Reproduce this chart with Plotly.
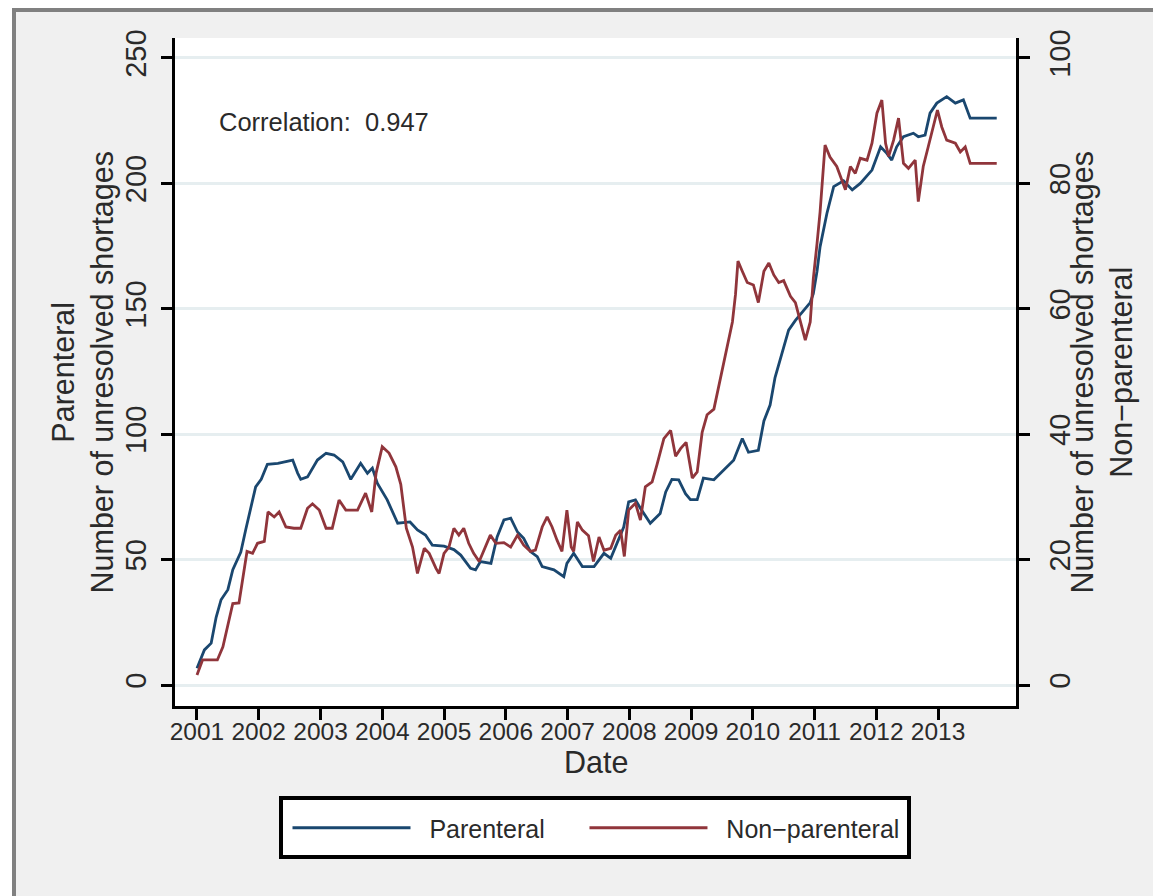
import plotly.graph_objects as go

# ---------------- data ----------------
years = list(range(2001, 2014))
year_labels = [str(y) for y in years]

# Parenteral shortages (left axis), x in decimal years
par_t = [2001.00, 2001.12, 2001.23, 2001.31, 2001.39, 2001.50, 2001.58, 2001.71, 2001.79, 2001.87,
         2001.95, 2002.04, 2002.14, 2002.31, 2002.55, 2002.63, 2002.68, 2002.79, 2002.95, 2003.09,
         2003.22, 2003.36, 2003.49, 2003.65, 2003.76, 2003.84, 2003.92, 2004.08, 2004.25, 2004.45,
         2004.57, 2004.70, 2004.81, 2005.00, 2005.16, 2005.27, 2005.43, 2005.51, 2005.59, 2005.76,
         2005.86, 2005.97, 2006.08, 2006.19, 2006.29, 2006.40, 2006.51, 2006.59, 2006.78, 2006.94,
         2006.99, 2007.10, 2007.24, 2007.43, 2007.59, 2007.70, 2007.80, 2007.91, 2007.99, 2008.10,
         2008.18, 2008.34, 2008.50, 2008.59, 2008.69, 2008.80, 2008.91, 2008.99, 2009.10, 2009.20,
         2009.37, 2009.53, 2009.69, 2009.83, 2009.93, 2010.09, 2010.18, 2010.28, 2010.36, 2010.47,
         2010.58, 2010.69, 2010.82, 2010.93, 2010.98, 2011.04, 2011.09, 2011.20, 2011.31, 2011.47,
         2011.61, 2011.74, 2011.93, 2012.07, 2012.17, 2012.25, 2012.33, 2012.44, 2012.60, 2012.68,
         2012.79, 2012.87, 2012.98, 2013.14, 2013.28, 2013.41, 2013.52, 2013.95]
par_v = [6.7, 14, 16.7, 27, 34, 38, 46, 53, 62, 71,
         79, 82, 88, 88.4, 89.7, 84.5, 82, 83, 89.7, 92.4,
         91.7, 89, 82, 88.4, 84.4, 86.5, 80.5, 73.8, 64.5, 65,
         61.8, 59.8, 55.8, 55.4, 54, 51.8, 46.5, 45.9, 49.2, 48.5,
         59, 65.8, 66.5, 61, 58.5, 53.2, 51.2, 47.2, 45.9, 43.2,
         48.5, 52.5, 47.2, 47.2, 52.5, 50.5, 56.5, 63, 73, 73.8,
         70.5, 64.5, 68.4, 77, 82, 81.8, 76.3, 73.9, 73.9, 82.5,
         81.8, 85.7, 89.6, 98.3, 92.8, 93.6, 105.3, 111.6, 122.6, 132,
         141.5, 145.4, 149.4, 152.5, 156, 165, 174.8, 188, 198.7, 201,
         197.4, 200, 205.3, 214.6, 212, 209.3, 214.6, 218.6, 220, 218.6,
         219.3, 228, 232, 234.6, 232, 233.3, 226, 226]

# Non-parenteral shortages (right axis)
nonpar_t = [2001.00, 2001.09, 2001.23, 2001.33, 2001.42, 2001.50, 2001.58, 2001.68, 2001.74, 2001.81,
            2001.90, 2001.98, 2002.09, 2002.15, 2002.25, 2002.33, 2002.44, 2002.57, 2002.68, 2002.79,
            2002.87, 2002.98, 2003.09, 2003.19, 2003.30, 2003.41, 2003.60, 2003.73, 2003.83, 2003.90,
            2004.00, 2004.11, 2004.22, 2004.30, 2004.39, 2004.49, 2004.57, 2004.68, 2004.76, 2004.87,
            2004.92, 2005.00, 2005.08, 2005.16, 2005.24, 2005.32, 2005.40, 2005.48, 2005.57, 2005.65,
            2005.75, 2005.84, 2005.97, 2006.08, 2006.19, 2006.29, 2006.40, 2006.48, 2006.59, 2006.67,
            2006.75, 2006.83, 2006.91, 2006.99, 2007.06, 2007.10, 2007.16, 2007.24, 2007.34, 2007.42,
            2007.51, 2007.59, 2007.70, 2007.78, 2007.86, 2007.92, 2007.99, 2008.10, 2008.18, 2008.26,
            2008.37, 2008.45, 2008.56, 2008.67, 2008.75, 2008.83, 2008.92, 2009.02, 2009.10, 2009.18,
            2009.26, 2009.37, 2009.45, 2009.53, 2009.61, 2009.67, 2009.72, 2009.76, 2009.83, 2009.91,
            2010.01, 2010.09, 2010.18, 2010.26, 2010.34, 2010.42, 2010.50, 2010.61, 2010.69, 2010.77,
            2010.85, 2010.93, 2010.98, 2011.04, 2011.09, 2011.17, 2011.25, 2011.36, 2011.44, 2011.50,
            2011.58, 2011.66, 2011.74, 2011.85, 2011.93, 2012.01, 2012.09, 2012.15, 2012.20, 2012.28,
            2012.36, 2012.44, 2012.52, 2012.63, 2012.68, 2012.76, 2012.84, 2012.92, 2012.99, 2013.06,
            2013.14, 2013.28, 2013.36, 2013.44, 2013.52, 2013.95]
nonpar_v = [1.6, 4, 4, 4, 6.1, 9.3, 13, 13.1, 16.7, 21.3,
            21, 22.6, 22.9, 27.6, 26.8, 27.6, 25.2, 25, 25, 28.2,
            28.9, 27.9, 25, 25, 29.5, 27.9, 27.9, 30.6, 27.6, 33.8,
            38, 37, 34.8, 32, 25, 22, 17.8, 21.8, 21, 18.6,
            17.8, 21, 22, 25, 23.9, 25, 22.6, 21, 19.7, 21.5,
            23.9, 22.6, 22.7, 22, 23.9, 22.3, 21.3, 21.5, 25.2, 26.8,
            25.2, 23.1, 21.3, 27.9, 22, 21.3, 26, 24.7, 23.8, 19.7,
            23.6, 21.5, 21.8, 23.9, 24.7, 20.5, 27.9, 29, 26.3, 31.6,
            32.4, 35.2, 39.3, 40.6, 36.5, 37.7, 38.7, 33, 34, 40.3,
            43.1, 44, 47.8, 51.6, 55.3, 57.9, 62.3, 67.6, 66, 64.2,
            63.8, 61, 66, 67.3, 65.4, 64.2, 64.5, 62, 61, 57.9,
            55, 57.9, 64.8, 70.4, 75.5, 86.1, 84.2, 82.7, 80.5, 79,
            82.7, 81.6, 84, 83.7, 86.4, 91.2, 93.3, 86.4, 84.3, 86.9,
            90.4, 83.2, 82.4, 83.7, 77.1, 82.7, 85.8, 89, 91.7, 89,
            86.9, 86.4, 85, 85.8, 83.2, 83.2]

left_ticks = [0, 50, 100, 150, 200, 250]
right_ticks = [0, 20, 40, 60, 80, 100]
correlation_text = "Correlation:  0.947"
series_names = ["Parenteral", "Non\u2212parenteral"]

# ---------------- styling ----------------
# the page body adds an 8px offset, so the figure is sized/positioned for that
W, H = 1153, 888
L, R, T, B = 167, 145, 30, 190
PW, PH = W - L - R, H - T - B
FONT = "Liberation Sans, Arial, sans-serif"
TXT = "#2a2a2a"
BLUE = "#1a476f"
RED = "#90353b"
GRID = "#e6eef0"
NB = "\u00a0"


def px(xp):
    return (xp - L) / PW


def py(yp):
    return (H - B - yp) / PH


fig = go.Figure()
fig.add_trace(go.Scatter(x=par_t, y=par_v, mode="lines", name=NB * 2 + series_names[0] + NB * 5,
                         line=dict(color=BLUE, width=2.8), yaxis="y"))
fig.add_trace(go.Scatter(x=nonpar_t, y=nonpar_v, mode="lines", name=NB * 2 + series_names[1],
                         line=dict(color=RED, width=2.8), yaxis="y2"))

axis_common = dict(showline=True, linecolor="black", linewidth=3, ticks="outside",
                   ticklen=11, tickwidth=3, tickcolor="black", zeroline=False)

fig.update_layout(
    width=W, height=H,
    margin=dict(l=L, r=R, t=T, b=B, pad=0),
    paper_bgcolor="#f0f0f0", plot_bgcolor="white",
    font=dict(family=FONT, color=TXT),
    showlegend=True,
    xaxis=dict(range=[2000.644, 2014.262], tickvals=years, ticktext=year_labels,
               tickfont=dict(size=24.5, color=TXT), showgrid=False, ticklabelstandoff=-9,
               **axis_common),
    yaxis=dict(range=[-8.37, 257.97], tickvals=left_ticks, tickangle=-90,
               tickfont=dict(size=29, color=TXT), showgrid=True, gridcolor=GRID, gridwidth=3,
               ticklabelstandoff=3, **axis_common),
    yaxis2=dict(range=[-8.37 / 2.5, 257.97 / 2.5], tickvals=right_ticks, tickangle=-90,
                overlaying="y", side="right", tickfont=dict(size=29, color=TXT), showgrid=False,
                ticklabelstandoff=5, **axis_common),
    legend=dict(orientation="h", xref="container", yref="container",
                x=276 / W, y=1 - 793.5 / H, xanchor="left", yanchor="top",
                bgcolor="rgba(0,0,0,0)", bordercolor="rgba(0,0,0,0)", borderwidth=3.5,
                font=dict(size=25, color=TXT), itemwidth=118,
                traceorder="normal"),
    hovermode=False,
)

annos = [
    dict(text=correlation_text, x=px(209), y=py(113.7), xanchor="left", yanchor="middle",
         font=dict(size=25.5, color=TXT)),
    dict(text="Parenteral<br>Number of unresolved shortages", x=px(74.5), y=py(364),
         textangle=-90, xanchor="center", yanchor="middle", font=dict(size=30.5, color=TXT)),
    dict(text="Number of unresolved shortages<br>Non\u2212parenteral", x=px(1093.5), y=py(364),
         textangle=-90, xanchor="center", yanchor="middle", font=dict(size=30.5, color=TXT)),
    dict(text="Date", x=px(587.5), y=py(754), xanchor="center", yanchor="middle",
         font=dict(size=30.5, color=TXT)),
]
for a in annos:
    a.update(xref="paper", yref="paper", showarrow=False)
fig.update_layout(annotations=annos)

# outer frame (white strip + gray border) and the legend box
shapes = [
    dict(type="rect", x0=px(-5), x1=px(4), y0=py(H + 5), y1=py(-5), fillcolor="white", line_width=0),
    dict(type="line", x0=px(6), x1=px(6), y0=py(H + 5), y1=py(0), line=dict(color="#808080", width=4)),
    dict(type="line", x0=px(4), x1=px(W + 5), y0=py(2), y1=py(2), line=dict(color="#808080", width=4)),
    dict(type="rect", x0=px(273), x1=px(901), y0=py(849), y1=py(790), fillcolor="white",
         line=dict(color="black", width=4)),
]
for s in shapes:
    s.update(xref="paper", yref="paper", layer="above")
fig.update_layout(shapes=shapes)

fig.write_html("out.html")
